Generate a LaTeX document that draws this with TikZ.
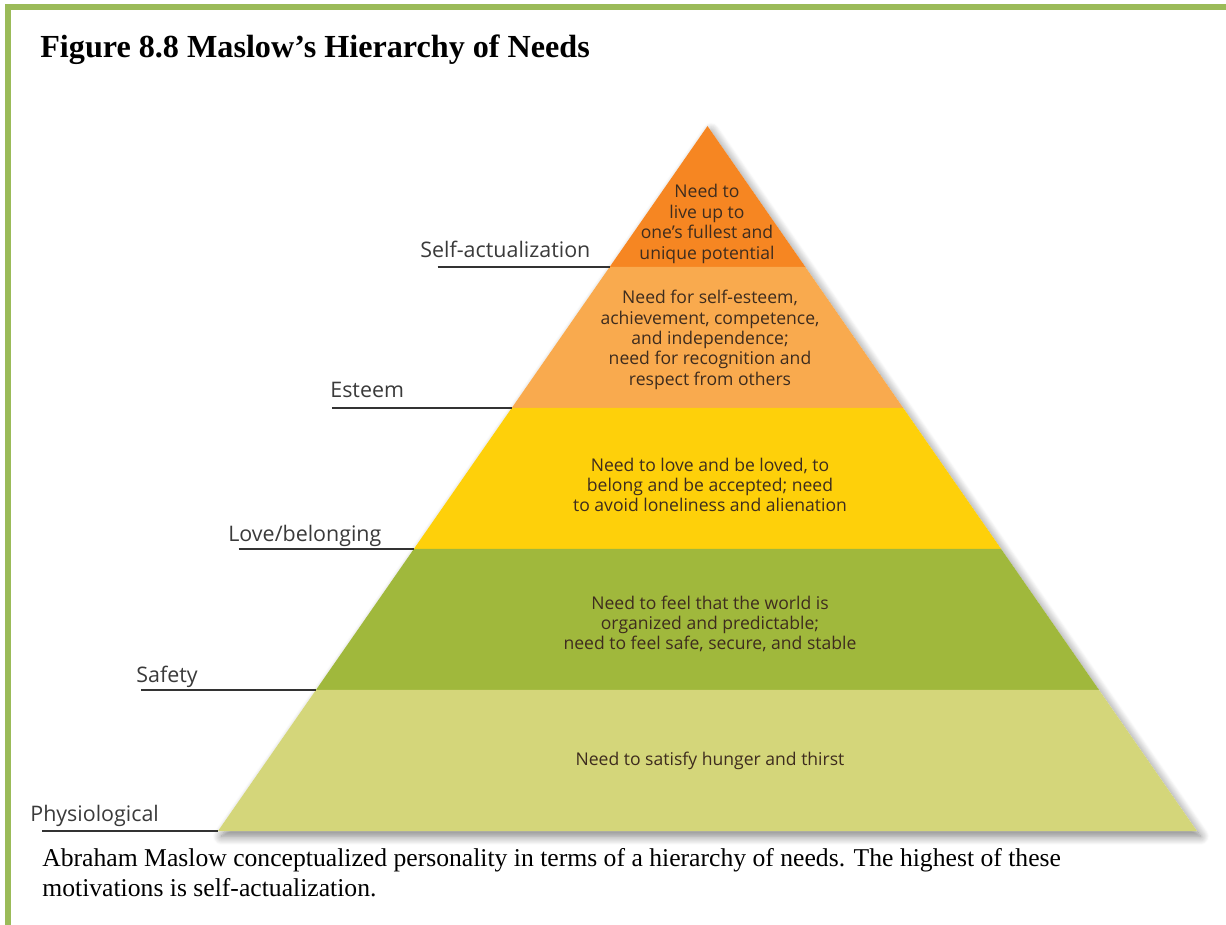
\documentclass[tikz,border=0pt]{standalone}
\usepackage{fontspec}
\setmainfont{Liberation Serif}
\newfontfamily\pyrfont{Open Sans}
\usepackage{tikz}
\usetikzlibrary{calc,shadows.blur}
\definecolor{framegreen}{RGB}{155,187,89}
\definecolor{selfcol}{RGB}{246,134,34}
\definecolor{esteemcol}{RGB}{249,170,78}
\definecolor{lovecol}{RGB}{254,208,10}
\definecolor{safetycol}{RGB}{160,184,60}
\definecolor{physcol}{RGB}{212,214,122}
\definecolor{needtext}{RGB}{62,44,30}
\definecolor{tagtext}{RGB}{58,58,58}

\begin{document}
\begin{tikzpicture}[
    x=0.02cm, y=-0.02cm,
    tag/.style={font=\pyrfont\fontsize{12.2}{14}\selectfont, text=tagtext, anchor=base west, inner sep=0pt},
    need/.style={font=\pyrfont\fontsize{10}{11.6}\selectfont, text=needtext, align=center, inner sep=0pt},
    leader/.style={draw=black!80, line width=1.1pt},
    layer/.style={draw=none}
]
\useasboundingbox (0,0) rectangle (1226,925);
\draw[framegreen, line width=0.12cm] (5,7.5) -- (1226,7.5);
\draw[framegreen, line width=0.12cm] (8,5) -- (8,925);

\node[anchor=base west, inner sep=0pt, font=\fontsize{18.3}{22}\selectfont\bfseries] (title) at (40,58) {Figure 8.8 Maslow’s Hierarchy of Needs};

\coordinate (A) at (707.5,126);
\foreach \i in {1,...,5}{
  \coordinate (L\i) at ($(A)!\i/5!(218,831)$);
  \coordinate (R\i) at ($(A)!\i/5!(1197,831)$);
}

\fill[white, blur shadow={shadow xshift=2pt, shadow yshift=-3pt, shadow blur steps=10, shadow blur radius=5pt, shadow opacity=50}] (A) -- (R5) -- (L5) -- cycle;
\fill[layer, selfcol] (A) -- (R1) -- (L1) -- cycle;
\fill[layer, esteemcol] (L1) -- (R1) -- (R2) -- (L2) -- cycle;
\fill[layer, lovecol] (L2) -- (R2) -- (R3) -- (L3) -- cycle;
\fill[layer, safetycol] (L3) -- (R3) -- (R4) -- (L4) -- cycle;
\fill[layer, physcol] (L4) -- (R4) -- (R5) -- (L5) -- cycle;

\node[need] (n1) at (707,224) {Need to\\live up to\\one’s fullest and\\unique potential};
\node[need] (n2) at (710,340) {Need for self-esteem,\\achievement, competence,\\and independence;\\need for recognition and\\respect from others};
\node[need] (n3) at (710,485) {Need to love and be loved, to\\belong and be accepted; need\\to avoid loneliness and alienation};
\node[need] (n4) at (710,624) {Need to feel that the world is\\organized and predictable;\\need to feel safe, secure, and stable};
\node[need] (n5) at (710,761) {Need to satisfy hunger and thirst};

\node[tag] (selfact) at (420,258) {Self-actualization};
\node[tag] (esteem) at (330,398) {Esteem};
\node[tag] (love) at (228,541) {Love/belonging};
\node[tag] (safety) at (136,682) {Safety};
\node[tag] (physio) at (30,821) {Physiological};

\draw[leader] ([xshift=10pt]selfact.west |- L1) -- (L1);
\draw[leader] ([xshift=1pt]esteem.west |- L2) -- (L2);
\draw[leader] ([xshift=6pt]love.west |- L3) -- (L3);
\draw[leader] ([xshift=3pt]safety.west |- L4) -- (L4);
\draw[leader] ([xshift=7pt]physio.west |- L5) -- (L5);

\node[anchor=north west, align=left, inner sep=0pt, font=\fontsize{14.6}{17}\selectfont] (caption) at (42,848) {Abraham Maslow conceptualized personality in terms of a hierarchy of needs. The highest of these\\motivations is self-actualization.};
\end{tikzpicture}
\end{document}
